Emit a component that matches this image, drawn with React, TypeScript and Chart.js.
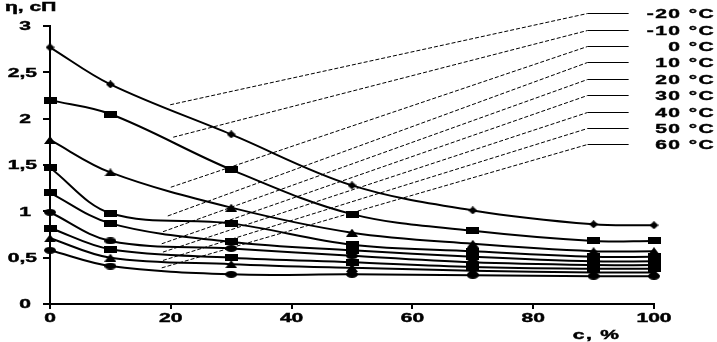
import React, { useEffect, useRef } from "react";
import { Chart, registerables } from "chart.js";

Chart.register(...registerables);

const xValues = [0, 10, 30, 50, 70, 90, 100];
const seriesLabels = ["-20 °C", "-10 °C", "0 °C", "10 °C", "20 °C", "30 °C", "40 °C", "50 °C", "60 °C"];
const viscM20 = [2.77, 2.37, 1.83, 1.28, 1.01, 0.86, 0.85];
const viscM10 = [2.2, 2.05, 1.45, 0.97, 0.79, 0.68, 0.68];
const visc0 = [1.77, 1.42, 1.04, 0.77, 0.65, 0.57, 0.57];
const visc10 = [1.47, 0.98, 0.87, 0.64, 0.57, 0.51, 0.51];
const visc20 = [1.2, 0.87, 0.67, 0.58, 0.51, 0.46, 0.46];
const visc30 = [0.99, 0.68, 0.6, 0.52, 0.45, 0.42, 0.42];
const visc40 = [0.82, 0.59, 0.5, 0.45, 0.4, 0.38, 0.38];
const visc50 = [0.71, 0.5, 0.43, 0.39, 0.36, 0.34, 0.34];
const visc60 = [0.58, 0.41, 0.32, 0.32, 0.31, 0.3, 0.3];
const seriesValues = [viscM20, viscM10, visc0, visc10, visc20, visc30, visc40, visc50, visc60];
const seriesMarkers = ["diamond", "rect", "triangle", "rect", "rect", "ellipse", "rect", "triangle", "ellipse"];

const xTickValues = [0, 20, 40, 60, 80, 100];
const xTickLabels = ["0", "20", "40", "60", "80", "100"];
const yTickValues = [0, 0.5, 1, 1.5, 2, 2.5, 3];
const yTickLabels = ["0", "0,5", "1", "1,5", "2", "2,5", "3"];

const yTitle = "η, сП";
const xTitle = "c, %";

// leader-line anchors, in data units
const leaderStartX = [19.9, 20.4, 20.0, 19.5, 18.7, 18.5, 18.7, 18.7, 18.5];
const leaderStartY = [2.15, 1.8, 1.26, 0.95, 0.78, 0.65, 0.56, 0.47, 0.39];
const leaderLabelY = [3.14, 2.96, 2.78, 2.61, 2.43, 2.26, 2.07, 1.9, 1.73];
const leaderBendX = 89;
const leaderEndX = 95.8;

const FONT = "bold 12px 'Liberation Sans', Arial, sans-serif";
const SX = 1.75;

function makeMarker(shape: string): HTMLCanvasElement {
  const c = document.createElement("canvas");
  let w = 13, h = 7;
  if (shape === "diamond") { w = 9; h = 8; }
  if (shape === "triangle") { w = 12; h = 8; }
  if (shape === "ellipse") { w = 12; h = 7; }
  c.width = w; c.height = h;
  const g = c.getContext("2d")!;
  g.fillStyle = "#000";
  g.beginPath();
  if (shape === "diamond") {
    g.moveTo(w / 2, 0); g.lineTo(w, h / 2); g.lineTo(w / 2, h); g.lineTo(0, h / 2);
  } else if (shape === "triangle") {
    g.moveTo(w / 2, 0); g.lineTo(w, h); g.lineTo(0, h);
  } else if (shape === "ellipse") {
    g.ellipse(w / 2, h / 2, w / 2, h / 2, 0, 0, Math.PI * 2);
  } else {
    g.rect(0, 0, w, h);
  }
  g.closePath();
  g.fill();
  return c;
}

function stretchText(ctx: CanvasRenderingContext2D, text: string, x: number, y: number, align: string, spacing = 0) {
  ctx.save();
  ctx.font = FONT;
  (ctx as any).letterSpacing = spacing + "px";
  ctx.fillStyle = "#000";
  ctx.strokeStyle = "#000";
  ctx.lineWidth = 0.4;
  ctx.textBaseline = "middle";
  ctx.textAlign = "left";
  const w = ctx.measureText(text).width * SX;
  const left = align === "right" ? x - w : align === "center" ? x - w / 2 : x;
  ctx.translate(left, y);
  ctx.scale(SX, 1);
  ctx.fillText(text, 0, 0);
  ctx.strokeText(text, 0, 0);
  ctx.restore();
}

const textPlugin = {
  id: "texts",
  afterDraw(chart: any) {
    const ctx: CanvasRenderingContext2D = chart.ctx;
    const xs = chart.scales.x;
    const ys = chart.scales.y;
    const area = chart.chartArea;
    yTickValues.forEach((v, i) => {
      const lab = yTickLabels[i];
      const right = area.left - 13 - (lab.includes(",") ? 0 : 6);
      stretchText(ctx, lab, right, ys.getPixelForValue(v) + 1, "right");
    });
    xTickValues.forEach((v, i) => {
      stretchText(ctx, xTickLabels[i], xs.getPixelForValue(v), area.bottom + 15, "center");
    });
    stretchText(ctx, yTitle, 5, 8, "left");
    stretchText(ctx, xTitle, xs.getPixelForValue(90.5), chart.height - 6, "center", 0.8);
    seriesLabels.forEach((lab, i) => {
      const x0 = xs.getPixelForValue(leaderStartX[i]);
      const y0 = ys.getPixelForValue(leaderStartY[i]);
      const x1 = xs.getPixelForValue(leaderBendX);
      const y1 = Math.round(ys.getPixelForValue(leaderLabelY[i])) + 0.5;
      const x2 = xs.getPixelForValue(leaderEndX);
      ctx.save();
      ctx.strokeStyle = "#000";
      ctx.lineWidth = 1;
      ctx.setLineDash([4, 2]);
      ctx.beginPath();
      ctx.moveTo(x0, y0);
      ctx.lineTo(x1, y1);
      ctx.stroke();
      ctx.setLineDash([]);
      ctx.beginPath();
      ctx.moveTo(x1, y1);
      ctx.lineTo(x2, y1);
      ctx.stroke();
      ctx.restore();
      stretchText(ctx, lab, chart.width - 2, y1 + 1, "right", 0.8);
    });
  },
};

export default function App() {
  const ref = useRef<HTMLCanvasElement>(null);
  useEffect(() => {
    if (!ref.current) return;
    const markers = seriesMarkers.map((m) => makeMarker(m));
    const datasets = seriesValues.map((vals, i) => ({
      label: seriesLabels[i],
      data: vals.map((v, j) => ({ x: xValues[j], y: v })),
      borderColor: "#000",
      backgroundColor: "#000",
      borderWidth: 2,
      tension: 0.35,
      pointStyle: markers[i] as any,
      pointRadius: 5,
      clip: false as any,
    }));
    const chart = new Chart(ref.current, {
      type: "line",
      data: { datasets },
      options: {
        animation: false,
        responsive: true,
        maintainAspectRatio: false,
        layout: { padding: { top: 26, right: 63, left: 0, bottom: 0 } },
        plugins: { legend: { display: false }, tooltip: { enabled: false } },
        scales: {
          x: {
            type: "linear",
            min: 0,
            max: 100,
            ticks: { stepSize: 20, display: false },
            grid: { drawOnChartArea: false, drawTicks: true, tickLength: 5, color: "#000", lineWidth: 2 },
            border: { display: true, color: "#000", width: 2 },
            afterFit: (s: any) => { s.height = 38; },
          },
          y: {
            type: "linear",
            min: 0,
            max: 3,
            ticks: { stepSize: 0.5, display: false },
            grid: { drawOnChartArea: false, drawTicks: true, tickLength: 7, color: "#000", lineWidth: 2 },
            border: { display: true, color: "#000", width: 2 },
            afterFit: (s: any) => { s.width = 50; },
          },
        },
      },
      plugins: [textPlugin],
    });
    return () => chart.destroy();
  }, []);
  return (
    <div style={{ position: "fixed", left: 0, top: 0, width: 717, height: 342, background: "#fff" }}>
      <canvas ref={ref} />
    </div>
  );
}
